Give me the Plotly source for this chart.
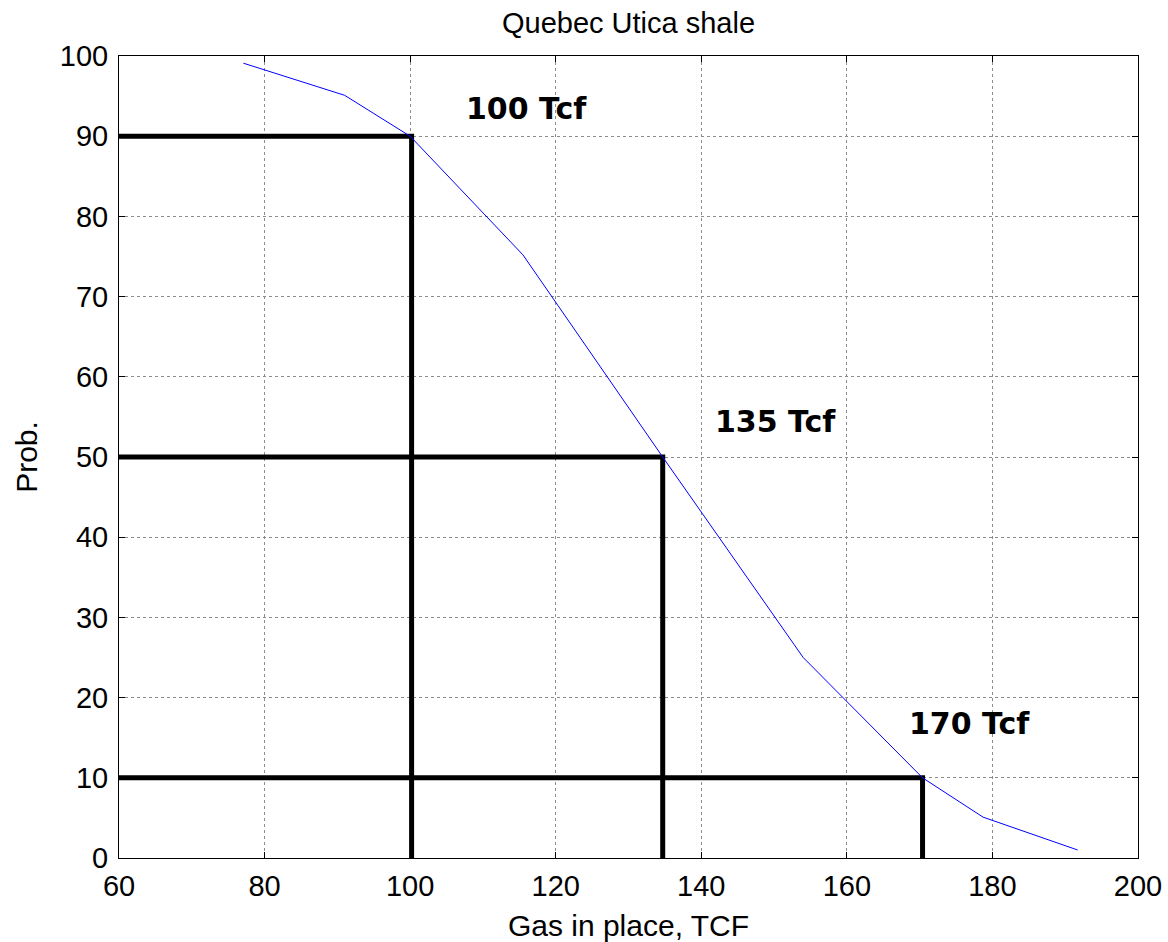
import plotly.graph_objects as go

# Data
gas_tcf = [77.1, 91.0, 100.0, 115.5, 134.7, 154.0, 170.4, 178.7, 191.7]
prob = [99.1, 95.1, 90.0, 75.2, 50.0, 25.0, 10.0, 5.1, 1.0]

marker_prob = [90, 50, 10]
marker_gas = [100.2, 134.7, 170.4]
marker_labels = ["100 Tcf", "135 Tcf", "170 Tcf"]
label_x = [116.0, 150.2, 176.8]
label_y = [93.5, 54.4, 16.8]

FONT = "Liberation Sans, Arial, Helvetica"

fig = go.Figure()

for p, g in zip(marker_prob, marker_gas):
    fig.add_trace(go.Scatter(x=[60, g, g], y=[p, p, 0], mode="lines",
                             line=dict(color="black", width=5),
                             showlegend=False, hoverinfo="skip"))

fig.add_trace(go.Scatter(x=gas_tcf, y=prob, mode="lines",
                         line=dict(color="#0000ff", width=1), showlegend=False,
                         hoverinfo="skip"))

for t, xx, yy in zip(marker_labels, label_x, label_y):
    fig.add_annotation(x=xx, y=yy, text="<b>" + t + "</b>", showarrow=False,
                       font=dict(family="Comic Sans MS, DejaVu Sans", size=30, color="black"),
                       xanchor="center", yanchor="middle")

axis_common = dict(
    showline=True, linecolor="black", linewidth=1, mirror="allticks",
    ticks="inside", ticklen=6, tickcolor="black", tickwidth=1,
    showgrid=True, gridcolor="#8c8c8c", gridwidth=1, griddash="dot",
    zeroline=False, automargin=False,
    tickfont=dict(family=FONT, size=29, color="black"),
)

fig.update_xaxes(range=[60, 200], tickvals=[60, 80, 100, 120, 140, 160, 180, 200],
                 ticklabelstandoff=2,
                 title=dict(text="Gas in place, TCF", font=dict(family=FONT, size=30, color="black"), standoff=15),
                 **axis_common)
fig.update_yaxes(range=[0, 100], tickvals=list(range(0, 101, 10)),
                 ticklabelstandoff=4,
                 title=dict(text="Prob.", font=dict(family=FONT, size=30, color="black"), standoff=13),
                 **axis_common)

fig.update_layout(
    width=1168, height=942,
    margin=dict(l=119, r=30, t=56, b=84, autoexpand=False),
    plot_bgcolor="white", paper_bgcolor="white",
    title=dict(text="Quebec Utica shale", x=0.5, xanchor="center", xref="paper",
               y=1 - 23.0 / 942, yref="container", yanchor="middle",
               font=dict(family=FONT, size=29, color="black")),
)

fig.write_html(
    "out.html",
    config={"displayModeBar": False},
    post_script=(
        "document.body.style.margin='0';"
        "document.body.style.overflow='hidden';"
        "document.documentElement.style.overflow='hidden';"
    ),
)
